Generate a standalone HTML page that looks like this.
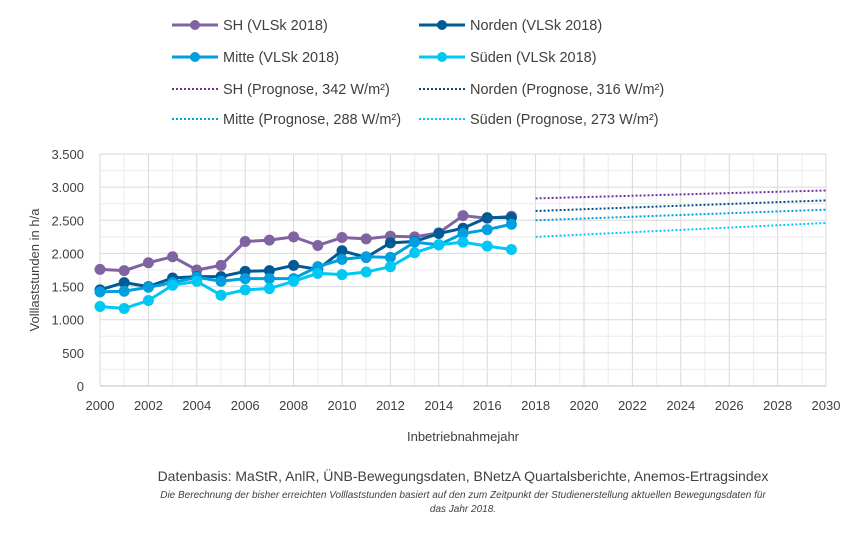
<!DOCTYPE html>
<html><head><meta charset="utf-8"><style>
body{margin:0;background:#fff;font-family:"Liberation Sans",sans-serif}
svg text{font-family:"Liberation Sans",sans-serif;fill:#404040}
</style></head><body>
<svg id="c" width="863" height="538"></svg>
<script>
const years=[2000,2001,2002,2003,2004,2005,2006,2007,2008,2009,2010,2011,2012,2013,2014,2015,2016,2017];
const sh=[1760,1740,1860,1950,1750,1820,2180,2200,2250,2120,2240,2220,2260,2250,2310,2570,2530,2560];
const norden=[1450,1560,1500,1630,1650,1650,1730,1740,1820,1760,2040,1940,2160,2180,2300,2380,2540,2540];
const mitte=[1420,1430,1490,1560,1640,1580,1620,1620,1620,1800,1910,1950,1940,2170,2130,2300,2360,2440];
const sueden=[1200,1170,1290,1520,1580,1370,1450,1470,1580,1700,1680,1720,1800,2010,2130,2170,2110,2060];
const progYears=[2018,2030];
const progSH=[2830,2950];
const progNorden=[2640,2800];
const progMitte=[2500,2660];
const progSueden=[2250,2460];
const yTicks=[0,500,1000,1500,2000,2500,3000,3500];
const yLabels=["0","500","1.000","1.500","2.000","2.500","3.000","3.500"];
const xTicks=[2000,2002,2004,2006,2008,2010,2012,2014,2016,2018,2020,2022,2024,2026,2028,2030];

const NS="http://www.w3.org/2000/svg",svg=document.getElementById('c');
const X=y=>100+(y-2000)*(726/30), Y=v=>386-v*(232/3500);
function el(t,a,p){const e=document.createElementNS(NS,t);for(const k in a)e.setAttribute(k,a[k]);(p||svg).appendChild(e);return e;}
for(let yr=2000;yr<=2030;yr++){const g=el('line',{x1:X(yr),x2:X(yr),y1:Y(3500),y2:386,stroke:yr%2?'#ececec':'#d9d9d9'});
}
for(let v=0;v<=3500;v+=250){const g=el('line',{x1:100,x2:826,y1:Y(v),y2:Y(v),stroke:v%500?'#ececec':'#d9d9d9'});
}
el('line',{x1:100,x2:826,y1:386,y2:386,stroke:'#bfbfbf'});
yTicks.forEach((v,i)=>{const t=el('text',{x:84,y:Y(v)+5,'text-anchor':'end','font-size':13});t.textContent=yLabels[i];
});
xTicks.forEach(v=>{const t=el('text',{x:X(v),y:410,'text-anchor':'middle','font-size':13});t.textContent=v;
});
let t=el('text',{x:463,y:441,'text-anchor':'middle','font-size':13});t.textContent='Inbetriebnahmejahr';

t=el('text',{x:0,y:0,'text-anchor':'middle','font-size':13,transform:'translate(39,270) rotate(-90)'});t.textContent='Volllaststunden in h/a';

[[progSH,'#7030a0'],[progNorden,'#004f8a'],[progMitte,'#009fdf'],[progSueden,'#00c8f5']].forEach(([d,c])=>{
const l=el('line',{x1:X(progYears[0]),y1:Y(d[0]),x2:X(progYears[1]),y2:Y(d[1]),stroke:c,'stroke-width':2,'stroke-dasharray':'2 2'});
});
[[sh,'#8064a2','sh'],[norden,'#005a96','norden'],[mitte,'#009fdf','mitte'],[sueden,'#00c8f5','sueden']].forEach(([d,c,n])=>{
const p=el('polyline',{points:d.map((v,i)=>X(years[i])+','+Y(v)).join(' '),fill:'none',stroke:c,'stroke-width':3});

d.forEach((v,i)=>{const m=el('circle',{cx:X(years[i]),cy:Y(v),r:5.5,fill:c});
});});
const leg=[['SH (VLSk 2018)','#8064a2',0,172,25],['Norden (VLSk 2018)','#005a96',0,419,25],
['Mitte (VLSk 2018)','#009fdf',0,172,57],['Süden (VLSk 2018)','#00c8f5',0,419,57],
['SH (Prognose, 342 W/m²)','#7030a0',1,172,89],['Norden (Prognose, 316 W/m²)','#004f8a',1,419,89],
['Mitte (Prognose, 288 W/m²)','#009fdf',1,172,119],['Süden (Prognose, 273 W/m²)','#00c8f5',1,419,119]];
leg.forEach(([txt,c,dot,x,y])=>{const g=el('g',{});

if(dot)el('line',{x1:x,x2:x+46,y1:y,y2:y,stroke:c,'stroke-width':2,'stroke-dasharray':'2 2'},g);
else{el('line',{x1:x,x2:x+46,y1:y,y2:y,stroke:c,'stroke-width':3},g);el('circle',{cx:x+23,cy:y,r:5,fill:c},g);}
const tt=el('text',{x:x+51,y:y+5,'font-size':14.5},g);tt.textContent=txt;});
t=el('text',{x:463,y:481,'text-anchor':'middle','font-size':14});t.textContent='Datenbasis: MaStR, AnlR, ÜNB-Bewegungsdaten, BNetzA Quartalsberichte, Anemos-Ertragsindex';

t=el('text',{x:463,y:498,'text-anchor':'middle','font-size':10,'font-style':'italic'});t.textContent='Die Berechnung der bisher erreichten Volllaststunden basiert auf den zum Zeitpunkt der Studienerstellung aktuellen Bewegungsdaten für';

t=el('text',{x:463,y:512,'text-anchor':'middle','font-size':10,'font-style':'italic'});t.textContent='das Jahr 2018.';

</script>
</body></html>
